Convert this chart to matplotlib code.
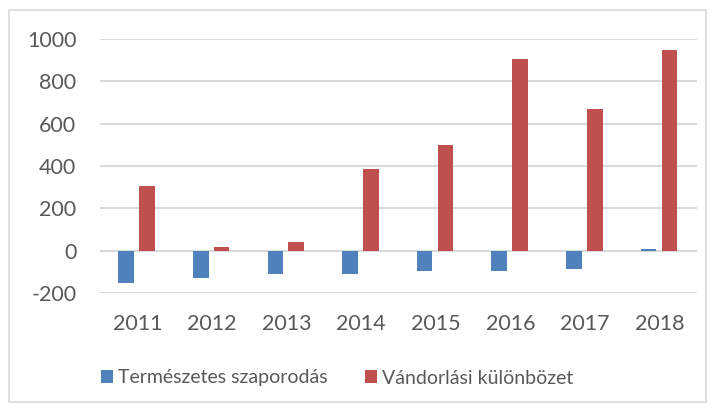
import numpy as np
import matplotlib.pyplot as plt
from matplotlib.patches import Rectangle

# adatok
years = ['2011', '2012', '2013', '2014', '2015', '2016', '2017', '2018']
termeszetes = [-155, -130, -110, -110, -96, -96, -88, 9]
vandorlasi = [305, 18, 41, 385, 500, 904, 668, 949]

blue = '#4F81BD'
red = '#C0504D'
grid_col = '#D9D9D9'
text_col = '#595959'

plt.rcParams['font.family'] = ['Lato', 'DejaVu Sans']
plt.rcParams['axes.unicode_minus'] = False

fig = plt.figure(figsize=(7.16, 4.12), dpi=100)
# kulso keret
fig.patches.append(Rectangle((9 / 716, 10 / 412), 697 / 716, 392 / 412,
                             transform=fig.transFigure, fill=False,
                             edgecolor=grid_col, linewidth=1.2))

ax = fig.add_axes([100 / 716, 1 - 293 / 412, 597 / 716, 254 / 412])

x = np.arange(len(years))
w = 0.21
ax.bar(x - 0.15, termeszetes, w, color=blue, label='Természetes szaporodás', zorder=3)
ax.bar(x + 0.13, vandorlasi, w, color=red, label='Vándorlási különbözet', zorder=3)

ax.set_xlim(-0.5, len(years) - 0.5)
ax.set_ylim(-200, 1000)
ax.set_yticks(range(-200, 1001, 200))
ax.set_xticks(x)
ax.set_xticklabels(years)

ax.yaxis.grid(True, color=grid_col, linewidth=1.5, zorder=0)
ax.set_axisbelow(True)
for s in ax.spines.values():
    s.set_visible(False)
ax.tick_params(axis='both', length=0, colors=text_col, labelsize=15.5)
ax.tick_params(axis='y', pad=17)
ax.tick_params(axis='x', pad=15)

fig.legend(loc='center', bbox_to_anchor=(0.4707, 1 - 378 / 412), ncol=2,
           frameon=False, fontsize=14, labelcolor=text_col,
           handlelength=0.62, handleheight=0.62, handletextpad=0.26,
           columnspacing=1.95)

fig.savefig('out.png', dpi=100)
